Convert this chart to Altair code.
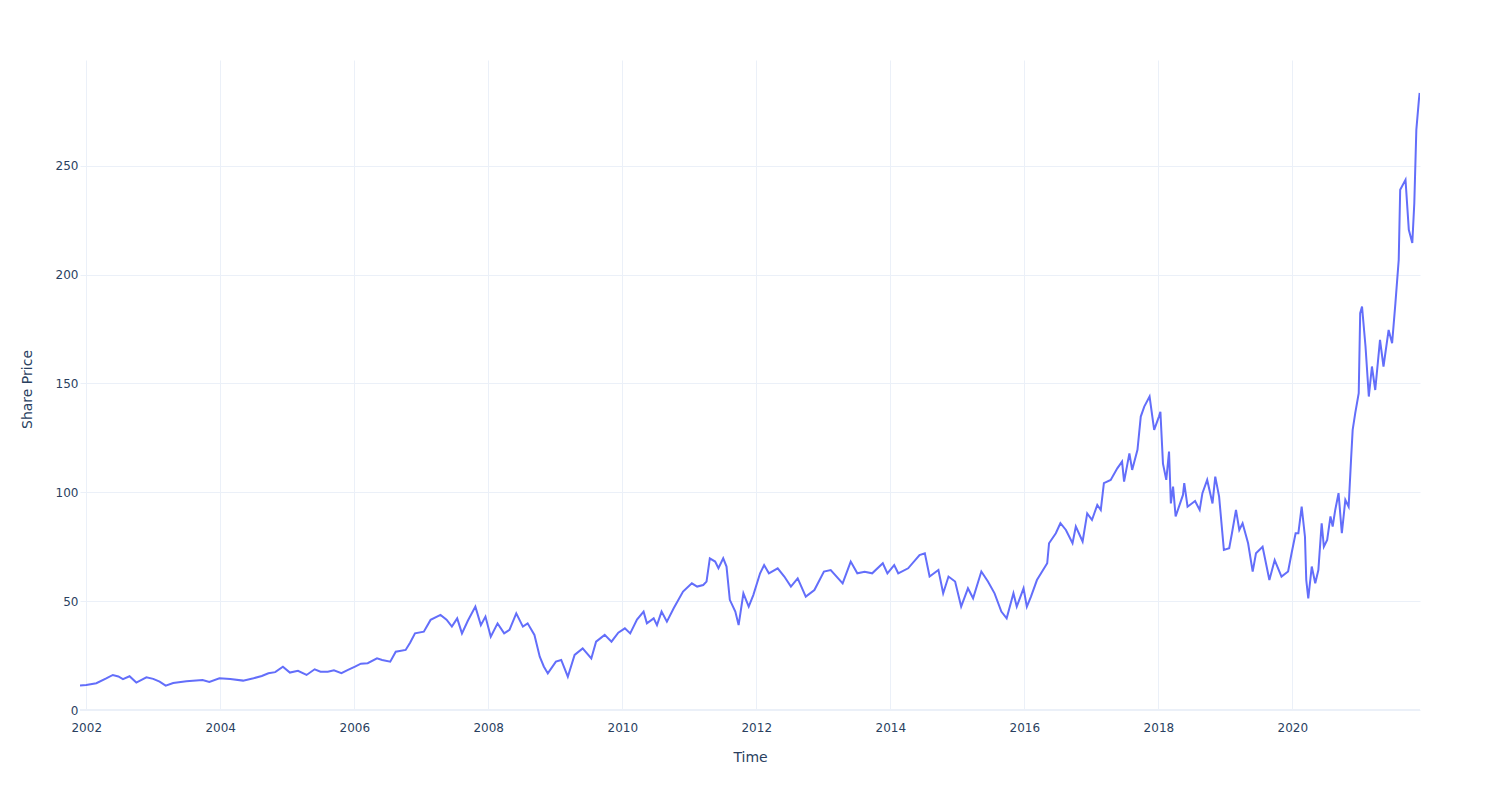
import altair as alt
import pandas as pd

dates = [
    "2001-11-28", "2002-01-01", "2002-02-25", "2002-04-20", "2002-05-26", "2002-06-25", "2002-07-20",
    "2002-08-25", "2002-10-01", "2002-11-25", "2003-01-01", "2003-02-05", "2003-03-10", "2003-04-20",
    "2003-07-01", "2003-09-27", "2003-11-03", "2003-12-28", "2004-02-25", "2004-05-05", "2004-07-01",
    "2004-08-15", "2004-09-20", "2004-10-27", "2004-12-08", "2005-01-15", "2005-02-28", "2005-04-16",
    "2005-05-30", "2005-07-01", "2005-08-10", "2005-09-12", "2005-10-23", "2005-11-25", "2006-01-05",
    "2006-02-06", "2006-03-15", "2006-05-05", "2006-06-02", "2006-07-16", "2006-08-15", "2006-10-08",
    "2006-11-02", "2006-11-28", "2007-01-15", "2007-02-21", "2007-04-16", "2007-05-19", "2007-06-17",
    "2007-07-16", "2007-08-11", "2007-09-12", "2007-10-23", "2007-11-22", "2007-12-17", "2008-01-15",
    "2008-02-21", "2008-03-28", "2008-04-26", "2008-06-02", "2008-07-08", "2008-08-03", "2008-09-09",
    "2008-10-08", "2008-10-30", "2008-11-21", "2009-01-04", "2009-02-02", "2009-03-10", "2009-04-16",
    "2009-05-30", "2009-07-16", "2009-08-11", "2009-09-27", "2009-11-03", "2009-12-10", "2010-01-15",
    "2010-02-13", "2010-03-22", "2010-04-27", "2010-05-15", "2010-06-21", "2010-07-09", "2010-08-03",
    "2010-09-01", "2010-10-08", "2010-11-28", "2011-01-15", "2011-02-13", "2011-03-18", "2011-04-05",
    "2011-04-23", "2011-05-22", "2011-06-09", "2011-07-05", "2011-07-23", "2011-08-10", "2011-09-09",
    "2011-09-27", "2011-10-23", "2011-11-21", "2011-12-16", "2012-01-22", "2012-02-13", "2012-03-10",
    "2012-04-27", "2012-06-02", "2012-07-08", "2012-08-14", "2012-09-27", "2012-11-13", "2013-01-04",
    "2013-02-10", "2013-04-16", "2013-05-30", "2013-07-05", "2013-08-14", "2013-09-24", "2013-11-21",
    "2013-12-16", "2014-01-22", "2014-02-13", "2014-04-08", "2014-06-09", "2014-07-08", "2014-08-03",
    "2014-09-20", "2014-10-16", "2014-11-14", "2014-12-20", "2015-01-22", "2015-02-28", "2015-03-28",
    "2015-05-12", "2015-06-17", "2015-07-23", "2015-08-29", "2015-09-27", "2015-11-03", "2015-11-21",
    "2015-12-28", "2016-01-15", "2016-02-06", "2016-03-10", "2016-05-05", "2016-05-15", "2016-06-21",
    "2016-07-16", "2016-08-15", "2016-09-20", "2016-10-08", "2016-11-14", "2016-12-09", "2017-01-04",
    "2017-02-02", "2017-02-21", "2017-03-10", "2017-04-16", "2017-05-22", "2017-06-17", "2017-06-28",
    "2017-07-27", "2017-08-11", "2017-09-09", "2017-09-27", "2017-10-16", "2017-11-14", "2017-12-09",
    "2018-01-04", "2018-01-12", "2018-01-26", "2018-02-13", "2018-02-28", "2018-03-10", "2018-03-22",
    "2018-04-05", "2018-05-15", "2018-05-22", "2018-06-09", "2018-07-20", "2018-08-14", "2018-08-29",
    "2018-09-24", "2018-10-23", "2018-11-07", "2018-11-28", "2018-12-24", "2019-01-22", "2019-02-06",
    "2019-02-28", "2019-03-18", "2019-04-05", "2019-05-05", "2019-05-30", "2019-06-17", "2019-07-23",
    "2019-08-29", "2019-09-27", "2019-11-03", "2019-12-09", "2019-12-28", "2020-01-19", "2020-02-03",
    "2020-02-21", "2020-03-10", "2020-03-17", "2020-03-28", "2020-04-16", "2020-05-05", "2020-05-22",
    "2020-06-09", "2020-06-21", "2020-07-09", "2020-07-27", "2020-08-08", "2020-08-22", "2020-09-09",
    "2020-09-27", "2020-10-16", "2020-11-03", "2020-11-17", "2020-11-25", "2020-12-09", "2020-12-28",
    "2021-01-05", "2021-01-15", "2021-02-03", "2021-02-21", "2021-03-10", "2021-03-28", "2021-04-23",
    "2021-05-12", "2021-06-09", "2021-06-28", "2021-07-16", "2021-08-03", "2021-08-11", "2021-09-09",
    "2021-09-27", "2021-10-16", "2021-10-27", "2021-11-07", "2021-11-21", "2021-11-25",
]

prices = [
    11.2, 11.5, 12.3, 14.5, 16.1, 15.4, 14.2,
    15.5, 12.6, 15.0, 14.3, 13.0, 11.2, 12.4,
    13.2, 13.8, 12.9, 14.6, 14.2, 13.5, 14.6,
    15.6, 16.9, 17.4, 19.9, 17.2, 18.0, 16.1,
    18.7, 17.6, 17.6, 18.2, 16.9, 18.3, 19.9,
    21.3, 21.5, 23.7, 23.0, 22.2, 26.8, 27.6,
    31.0, 35.2, 36.0, 41.4, 43.7, 41.5, 38.3,
    42.1, 35.2, 41.0, 47.5, 39.0, 42.9, 33.7,
    39.8, 35.2, 36.8, 44.4, 38.3, 39.8, 34.5,
    24.5, 20.0, 16.8, 22.2, 23.0, 15.3, 25.3,
    28.3, 23.7, 31.4, 34.5, 31.4, 35.5, 37.5,
    35.2, 41.5, 45.2, 39.8, 42.1, 39.0, 45.2,
    40.6, 46.7, 54.4, 58.2, 56.7, 57.4, 59.0,
    69.7, 68.2, 65.1, 69.7, 65.9, 50.6, 45.2,
    39.0, 53.6, 47.5, 52.8, 62.8, 66.6, 62.8,
    65.1, 61.3, 56.7, 60.5, 52.1, 55.1, 63.6,
    64.3, 58.2, 68.2, 62.8, 63.5, 62.8, 67.4,
    62.8, 66.6, 62.8, 65.1, 71.2, 72.0, 61.3,
    64.3, 53.6, 61.3, 59.0, 47.5, 55.9, 51.3,
    63.6, 59.0, 53.6, 45.2, 42.1, 53.6, 47.5,
    55.9, 47.5, 52.0, 59.7, 67.4, 76.6, 81.2,
    85.8, 82.7, 76.6, 84.3, 77.4, 90.3, 87.3,
    94.2, 91.9, 104.2, 105.7, 111.0, 114.1, 104.9,
    117.9, 110.3, 119.5, 134.8, 139.4, 144.0, 128.7,
    134.8, 137.0, 113.2, 105.7, 118.7, 94.9, 102.6,
    88.9, 98.8, 104.2, 93.4, 96.0, 91.9, 99.6,
    105.7, 94.9, 107.2, 98.0, 73.5, 74.3, 81.2,
    91.9, 82.7, 85.8, 76.6, 63.6, 72.0, 75.0,
    59.7, 68.9, 61.3, 63.6, 72.0, 81.2, 81.2,
    93.4, 79.6, 59.7, 51.3, 65.9, 58.2, 64.3,
    85.8, 75.0, 78.1, 88.9, 84.3, 91.9, 99.6,
    81.2, 96.5, 93.4, 116.4, 128.7, 136.4, 145.5,
    182.3, 185.3, 167.0, 144.0, 157.8, 147.0, 170.0,
    157.8, 174.6, 168.5, 186.9, 206.8, 239.0, 243.6,
    220.6, 214.5, 232.9, 266.5, 280.3, 283.5,
]

x_ticks = [2002, 2004, 2006, 2008, 2010, 2012, 2014, 2016, 2018, 2020]
y_ticks = [0, 50, 100, 150, 200, 250]

df = pd.DataFrame({"date": dates, "price": prices})

FONT = "DejaVu Sans"
TXT = "#2a3f5f"
GRID = "#ebf0f8"

x_enc = alt.X(
    "date:T",
    scale=alt.Scale(domain=[alt.DateTime(year=2001, month=11, date=28),
                            alt.DateTime(year=2021, month=11, date=27)]),
    axis=alt.Axis(
        title="Time",
        values=[alt.DateTime(year=y, month=1, date=1) for y in x_ticks],
        format="%Y",
        grid=True, gridColor=GRID, gridWidth=1,
        domain=False, ticks=False, tickSize=0,
        labelPadding=12, labelFont=FONT, labelFontSize=12, labelColor=TXT,
        titleFont=FONT, titleFontSize=14, titleColor=TXT, titleFontWeight="normal",
        titlePadding=17,
    ),
)

y_enc = alt.Y(
    "price:Q",
    scale=alt.Scale(domain=[0, 298.6], nice=False, zero=True),
    axis=alt.Axis(
        title="Share Price",
        values=y_ticks,
        grid=True, gridColor=GRID, gridWidth=1,
        domain=False, ticks=False, tickSize=0,
        labelPadding=2, labelFont=FONT, labelFontSize=12, labelColor=TXT,
        titleFont=FONT, titleFontSize=14, titleColor=TXT, titleFontWeight="normal",
        titlePadding=21, titleY=329,
    ),
)

line = alt.Chart(df).mark_line(color="#636efa", strokeWidth=2, clip=True).encode(
    x=x_enc, y=y_enc
)

zero = alt.Chart(pd.DataFrame({"z": [0]})).mark_rule(color=GRID, strokeWidth=2).encode(
    y=alt.Y("z:Q")
)

chart = alt.layer(zero, line).properties(
    width=1340,
    height=650,
    autosize=alt.AutoSizeParams(type="none"),
    padding={"left": 80, "top": 60, "right": 80, "bottom": 90},
    background="white",
).configure_view(stroke=None)

chart.save("out.html", embed_options={"renderer": "svg", "actions": False})
